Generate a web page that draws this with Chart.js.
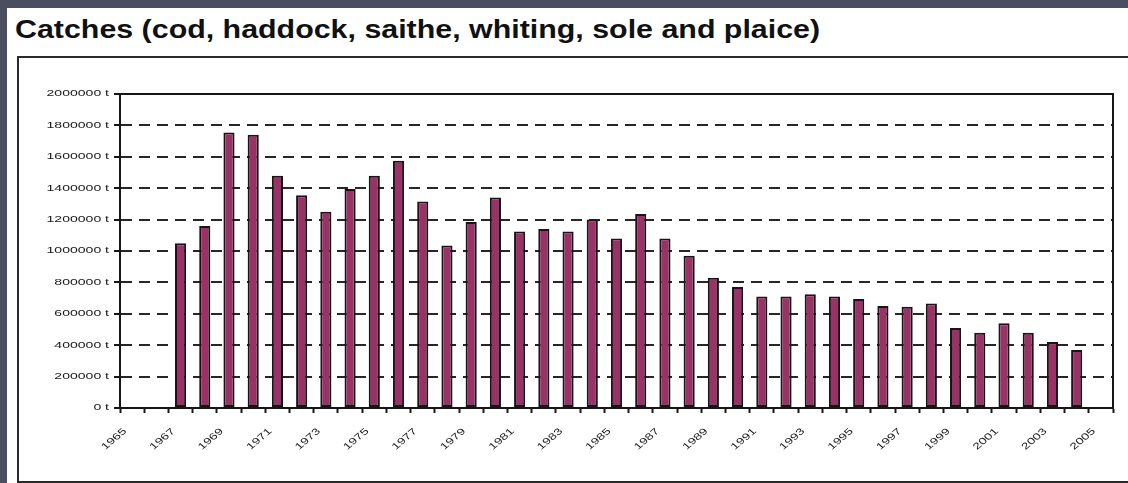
<!DOCTYPE html>
<html>
<head>
<meta charset="utf-8">
<title>Catches</title>
<script src="https://cdn.jsdelivr.net/npm/chart.js@4"></script>
<style>
  html, body { margin: 0; padding: 0; }
  body {
    width: 1128px; height: 483px; overflow: hidden; position: relative;
    background: #4b4e60;
    font-family: "Liberation Sans", Arial, sans-serif;
  }
  #sheet { position: absolute; left: 7px; top: 8px; right: 0; bottom: 0; background: #fff; }
  #title {
    position: absolute; left: 15px; top: 17px;
    font: bold 25px/25px "Liberation Sans", Arial, sans-serif; color: #111;
    white-space: nowrap; transform: scaleX(1.215); transform-origin: 0 0;
  }
  #frame {
    position: absolute; left: 17px; top: 56px; width: 1130px; height: 423px;
    border: 2px solid #2a2a2a;
  }
  #catchChart { position: absolute; left: 0; top: 0; }
</style>
</head>
<body>
<div id="sheet"></div>
<div id="title">Catches (cod, haddock, saithe, whiting, sole and plaice)</div>
<div id="frame"></div>
<canvas id="catchChart" width="1128" height="483"></canvas>
<script>
// Years on the category axis
const years = ['1965', '1966', '1967', '1968', '1969', '1970', '1971', '1972', '1973', '1974',
               '1975', '1976', '1977', '1978', '1979', '1980', '1981', '1982', '1983', '1984',
               '1985', '1986', '1987', '1988', '1989', '1990', '1991', '1992', '1993', '1994',
               '1995', '1996', '1997', '1998', '1999', '2000', '2001', '2002', '2003', '2004',
               '2005'];

// Total catches in tonnes (no data for 1965, 1966 and 2005)
const catches = [null, null, 1050000, 1160000, 1755000, 1740000, 1480000, 1355000, 1250000, 1395000,
                 1480000, 1575000, 1315000, 1035000, 1185000, 1340000, 1125000, 1140000, 1125000, 1200000,
                 1080000, 1235000, 1080000, 970000, 830000, 770000, 710000, 710000, 725000, 710000,
                 695000, 650000, 645000, 665000, 510000, 480000, 540000, 480000, 420000, 370000,
                 null];

// Tick labels
const yTicks = [0, 200000, 400000, 600000, 800000, 1000000, 1200000, 1400000, 1600000, 1800000, 2000000];
const yearLabels = ['1965', '1967', '1969', '1971', '1973', '1975', '1977', '1979', '1981', '1983',
                    '1985', '1987', '1989', '1991', '1993', '1995', '1997', '1999', '2001', '2003',
                    '2005'];

const INK = '#161616';
const LABEL_FONT = '9px "Liberation Sans", Arial, sans-serif';

// solid box round the plot area
const plotFrame = {
    id: 'plotFrame',
    afterDatasetsDraw(chart) {
        const {ctx, chartArea: a} = chart;
        ctx.save();
        ctx.strokeStyle = INK;
        ctx.lineWidth = 2;
        ctx.strokeRect(a.left, a.top, a.right - a.left, a.bottom - a.top);
        ctx.restore();
    }
};

// wide, squat axis labels
const axisLabels = {
    id: 'axisLabels',
    afterDraw(chart) {
        const {ctx} = chart;
        const xs = chart.scales.x;
        const ys = chart.scales.y;
        ctx.save();
        ctx.font = LABEL_FONT;
        ctx.fillStyle = '#1a1a1a';
        ctx.textAlign = 'right';
        ctx.textBaseline = 'middle';

        yTicks.forEach(v => {
            ctx.save();
            ctx.translate(ys.left + ys.width - 11, ys.getPixelForValue(v));
            ctx.scale(1.56, 1);
            ctx.fillText(v + ' t', 0, 0);
            ctx.restore();
        });

        yearLabels.forEach(yr => {
            ctx.save();
            ctx.translate(xs.getPixelForValue(years.indexOf(yr)) - 7, xs.top + 22);
            ctx.scale(1.2, 1);
            ctx.rotate(-Math.PI / 4);
            ctx.scale(1.3, 1);
            ctx.fillText(yr, 0, 0);
            ctx.restore();
        });
        ctx.restore();
    }
};

new Chart(document.getElementById('catchChart'), {
    type: 'bar',
    data: {
        labels: years,
        datasets: [{
            label: 'Catches',
            data: catches,
            backgroundColor: '#993366',
            borderColor: INK,
            borderWidth: 2,
            borderSkipped: false,
            barPercentage: 0.46,
            categoryPercentage: 1
        }]
    },
    options: {
        responsive: false,
        animation: false,
        layout: { padding: { top: 94, right: 15, bottom: 0, left: 0 } },
        plugins: {
            legend: { display: false },
            tooltip: { enabled: false }
        },
        scales: {
            x: {
                offset: true,
                ticks: { display: false },
                grid: {
                    offset: true,
                    drawOnChartArea: false,
                    drawTicks: true,
                    tickLength: 5,
                    tickWidth: 2,
                    tickColor: INK
                },
                border: { display: true, color: INK, width: 2 },
                afterFit(scale) { scale.height = 75; }
            },
            y: {
                min: 0,
                max: 2000000,
                ticks: { display: false, stepSize: 200000 },
                grid: {
                    color: '#262626',
                    lineWidth: 2,
                    drawTicks: true,
                    tickLength: 6,
                    tickWidth: 2,
                    tickColor: INK,
                    tickBorderDash: [0, 0]
                },
                border: { display: true, color: INK, width: 2, dash: [11, 7] },
                afterFit(scale) { scale.width = 120; }
            }
        }
    },
    plugins: [plotFrame, axisLabels]
});
</script>
</body>
</html>
